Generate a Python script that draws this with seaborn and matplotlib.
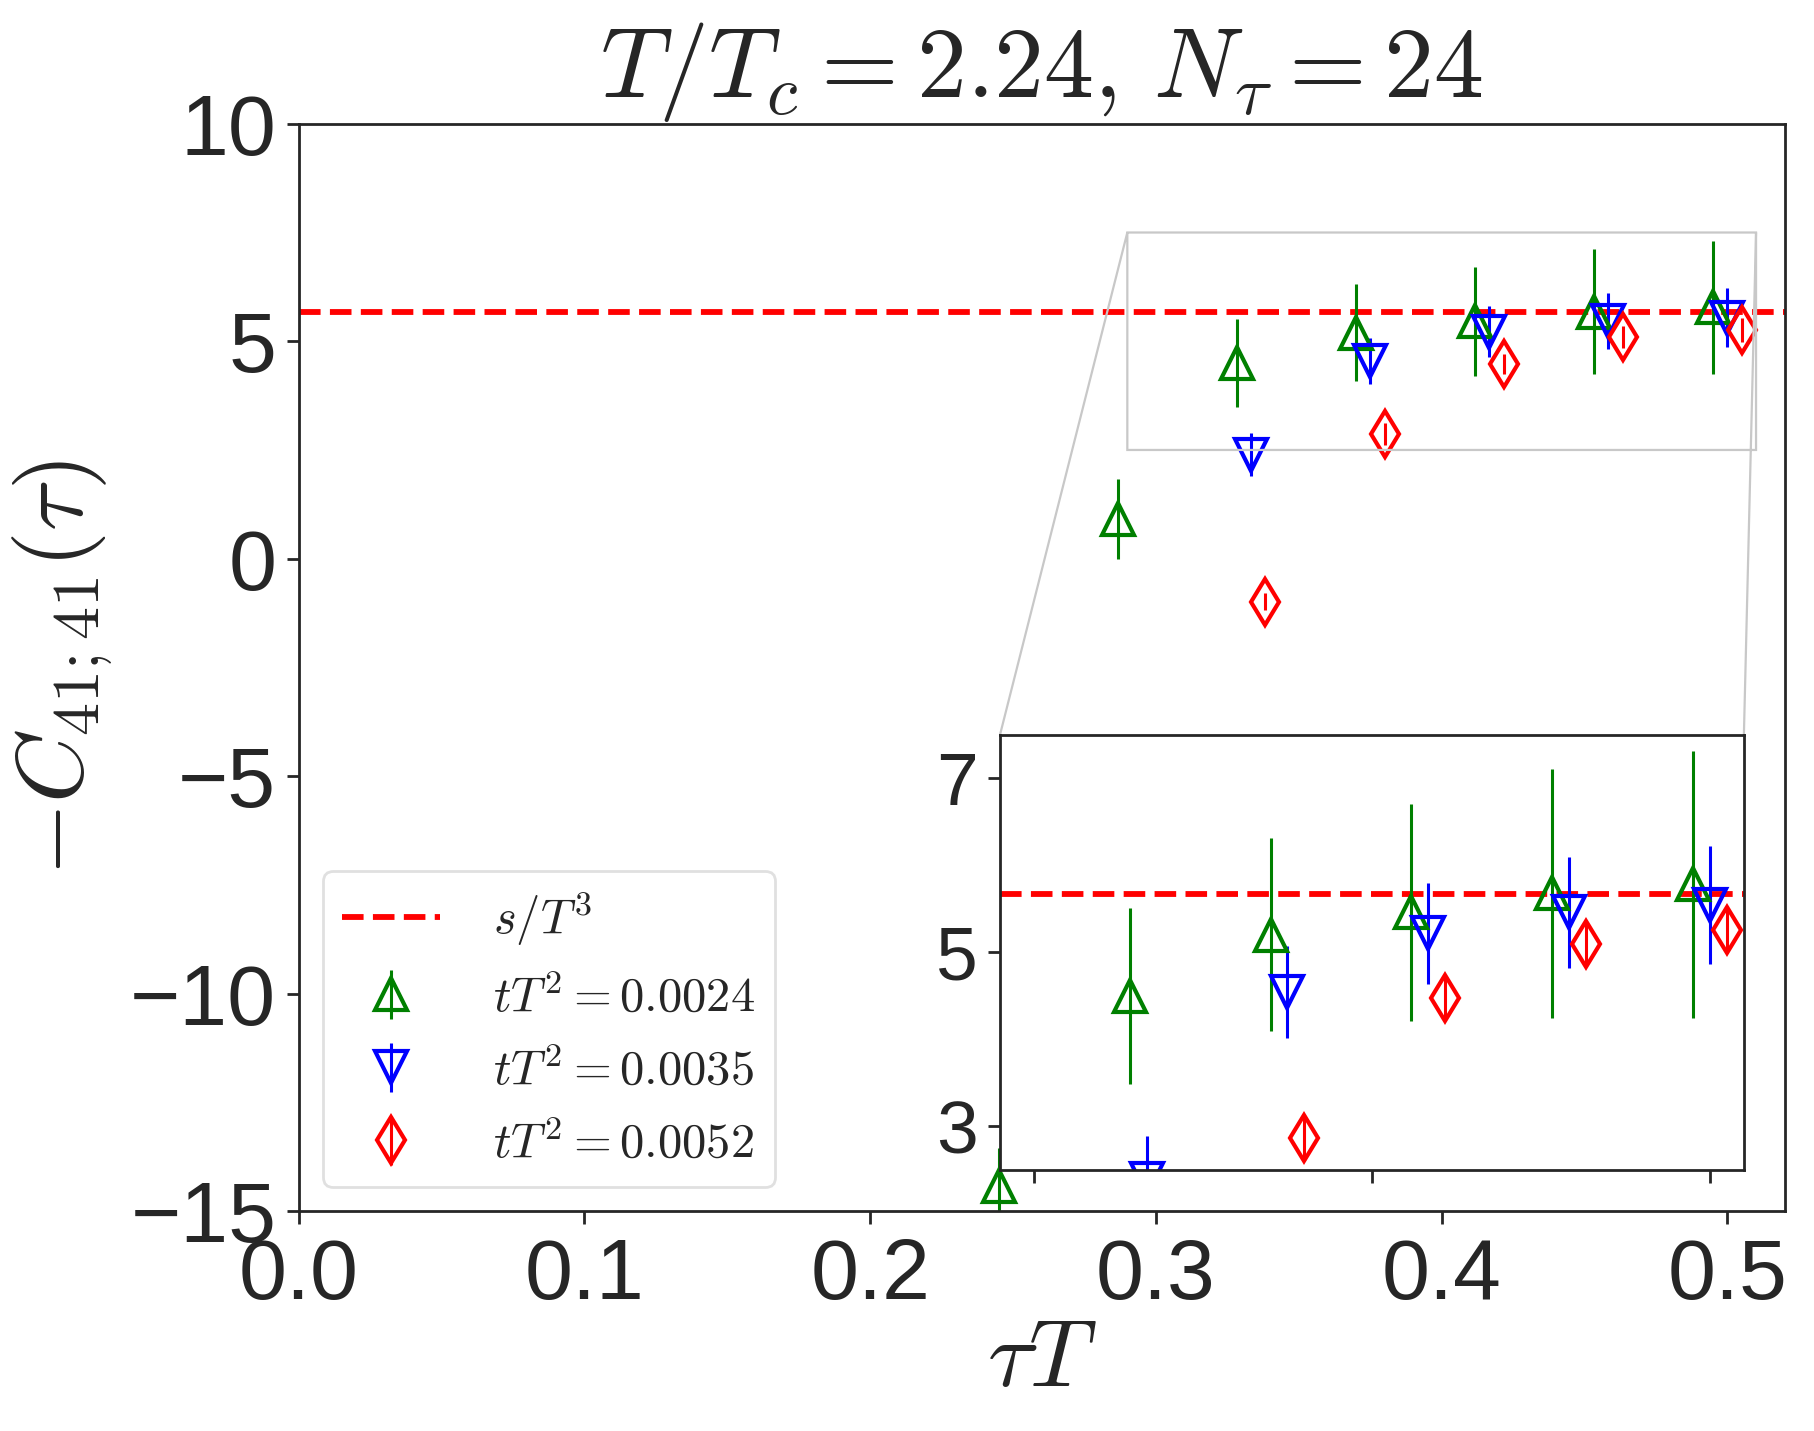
import numpy as np
import matplotlib
matplotlib.use("Agg")
import matplotlib.pyplot as plt
import seaborn as sns

# ---------------------------
# Datos
# ---------------------------
N_TAU = 24
s_over_T3 = 5.67

# índices de tiempo euclídeo (tau*T = n / N_tau)
n_green = [6, 7, 8, 9, 10, 11, 12]
c_green = [-14.43, 0.92, 4.50, 5.20, 5.46, 5.68, 5.78]
e_green = [0.88, 0.92, 1.01, 1.11, 1.25, 1.43, 1.53]

n_blue = [8, 9, 10, 11, 12]
c_blue = [2.39, 4.54, 5.22, 5.46, 5.54]
e_blue = [0.50, 0.53, 0.58, 0.64, 0.68]

n_red = [8, 9, 10, 11, 12]
c_red = [-0.99, 2.87, 4.48, 5.10, 5.26]
e_red = [0.19, 0.26, 0.23, 0.26, 0.27]

labels = [r"$tT^2=0.0024$", r"$tT^2=0.0035$", r"$tT^2=0.0052$"]

# ---------------------------
# Estilo
# ---------------------------
sns.set_theme(style="ticks")
plt.rcParams["font.family"] = ["Liberation Sans", "DejaVu Sans"]
plt.rcParams["mathtext.fontset"] = "cm"
plt.rcParams["axes.linewidth"] = 1.0
plt.rcParams["xtick.major.width"] = 1.0
plt.rcParams["ytick.major.width"] = 1.0
plt.rcParams["xtick.major.size"] = 4.5
plt.rcParams["ytick.major.size"] = 4.5

series = [
    (n_green, c_green, e_green, "green", "^", -0.005, labels[0]),
    (n_blue, c_blue, e_blue, "blue", "v", 0.0, labels[1]),
    (n_red, c_red, e_red, "red", "d", 0.005, labels[2]),
]


def draw(ax, with_labels=True):
    ax.axhline(s_over_T3, color="red", ls="--", lw=2.1,
               label=r"$s/T^3$" if with_labels else None, zorder=1)
    for n, c, e, col, mk, shift, lab in series:
        tau = np.array(n) / N_TAU + shift
        ax.errorbar(tau, c, yerr=e, fmt=mk, color=col, mfc="none",
                    ms=11.5, mew=1.5, elinewidth=1.1, capsize=0,
                    label=lab if with_labels else None)


fig = plt.figure(figsize=(9.07, 7.155), dpi=200)
ax = fig.add_axes([0.1646, 0.1537, 0.8192, 0.7598])
draw(ax)
ax.set_xlim(0, 0.52)
ax.set_ylim(-15, 10)
ax.set_xticks([0.0, 0.1, 0.2, 0.3, 0.4, 0.5])
ax.set_yticks([-15, -10, -5, 0, 5, 10])
ax.tick_params(labelsize=31)
ax.tick_params(axis="x", pad=5)
ax.set_xlabel(r"$\tau T$", fontsize=34, labelpad=0)
ax.set_ylabel(r"$-C_{41;41}(\tau)$", fontsize=34, labelpad=6)
ax.set_title(r"$T/T_c=2.24,\,N_\tau=24$", fontsize=36, pad=8)

leg = ax.legend(loc="lower left", fontsize=17.5, frameon=True, fancybox=True,
                edgecolor="0.85", handlelength=2.0, borderpad=0.4,
                handletextpad=1.1, labelspacing=0.55)

# Zoom
axins = ax.inset_axes([0.472, 0.038, 0.5006, 0.400])
draw(axins, with_labels=False)
axins.set_xlim(0.29, 0.51)
axins.set_ylim(2.5, 7.5)
axins.set_xticks([0.3, 0.4, 0.5])
axins.set_xticklabels([])
axins.set_yticks([3, 5, 7])
axins.tick_params(labelsize=27)
ax.indicate_inset_zoom(axins, edgecolor="#c8c8c8", alpha=1.0, lw=0.8)

fig.savefig("out.png", dpi=200)
